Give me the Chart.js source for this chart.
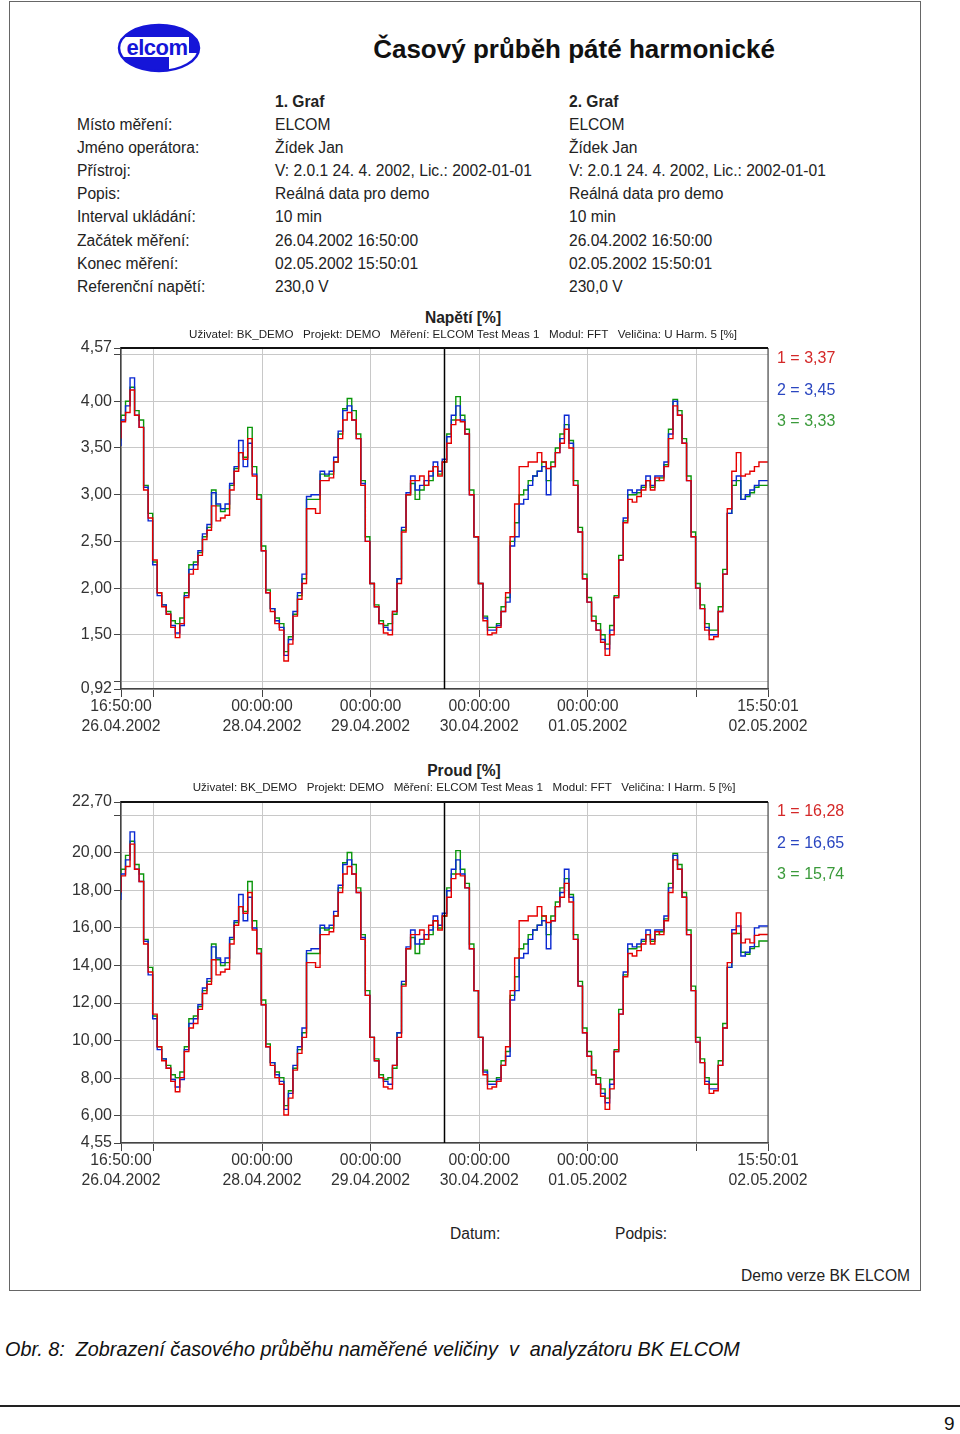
<!DOCTYPE html>
<html lang="cs">
<head>
<meta charset="utf-8">
<title>Časový průběh páté harmonické</title>
<script src="https://cdn.jsdelivr.net/npm/chart.js@4.4.1/dist/chart.umd.min.js"></script>
<style>
  body { margin: 0; background: #fff; }
  #page { position: relative; width: 960px; height: 1434px; overflow: hidden;
          font-family: "Liberation Sans", Arial, sans-serif; color: #222; }
  .t { position: absolute; white-space: pre; font-size: 15.6px; line-height: 20px; }
  .c { transform: translateX(-50%); }
  canvas { position: absolute; left: 0; }
  #frame { position: absolute; left: 9px; top: 1px; width: 910px; height: 1288px; border: 1px solid #666; }
</style>
</head>
<body>
<div id="page">
  <div id="frame"></div>

  <svg style="position:absolute;left:117px;top:23px" width="84" height="50" viewBox="0 0 84 50">
    <defs><clipPath id="lc"><ellipse cx="42" cy="25" rx="40" ry="23"/></clipPath></defs>
    <ellipse cx="42" cy="25" rx="40" ry="23" fill="#1515d8"/>
    <g clip-path="url(#lc)">
      <rect x="0" y="14" width="72" height="20" fill="#fff"/>
      <rect x="52" y="30" width="40" height="22" fill="#fff"/>
    </g>
    <ellipse cx="42" cy="25" rx="40" ry="23" fill="none" stroke="#1515d8" stroke-width="2.5"/>
    <text x="40" y="32" text-anchor="middle" font-family="Liberation Sans, Arial" font-weight="bold"
          font-size="22" fill="#1515d8" stroke="#fff" stroke-width="1" paint-order="stroke" letter-spacing="-0.5">elcom</text>
  </svg>

  <div class="t c" style="left:574px;top:33px;font-size:26px;line-height:32px;font-weight:bold;color:#111">Časový průběh páté harmonické</div>

  <div id="info"></div>

  <canvas id="napeti" width="960" height="420" style="top:330px"></canvas>
  <canvas id="proud" width="960" height="420" style="top:784px"></canvas>

  <div class="t c" style="left:463px;top:308px;font-weight:bold">Napětí [%]</div>
  <div class="t c" style="left:463px;top:326px;font-size:11.6px;line-height:16px">Uživatel: BK_DEMO   Projekt: DEMO   Měření: ELCOM Test Meas 1   Modul: FFT   Veličina: U Harm. 5 [%]</div>
  <div class="t c" style="left:464px;top:761px;font-weight:bold">Proud [%]</div>
  <div class="t c" style="left:464px;top:779px;font-size:11.6px;line-height:16px">Uživatel: BK_DEMO   Projekt: DEMO   Měření: ELCOM Test Meas 1   Modul: FFT   Veličina: I Harm. 5 [%]</div>

  <div id="legend1"></div>
  <div id="legend2"></div>

  <div class="t" style="left:450px;top:1224px">Datum:</div>
  <div class="t" style="left:615px;top:1224px">Podpis:</div>
  <div class="t" style="right:50px;top:1266px">Demo verze BK ELCOM</div>

  <div class="t" style="left:5px;top:1337px;font-size:19.8px;line-height:24px;font-style:italic;color:#111">Obr. 8:  Zobrazení časového průběhu naměřené veličiny  v  analyzátoru BK ELCOM</div>
  <div style="position:absolute;left:0;top:1405px;width:960px;height:0;border-top:2px solid #222"></div>
  <div class="t" style="left:944px;top:1412px;font-size:19px;line-height:24px;color:#111">9</div>
</div>

<script>
// hodinové vzorky od 26.04.2002 16:50:00 (10min záznam, zde po hodinách)
const startHour = 0;
const stepHours = 1;
const endHour = 143;
const cursorHour = 71.5;

const xTicks = [0, 7.1667, 31.1667, 55.1667, 79.1667, 103.1667, 127.1667, 143];
const xTickLabels = [
  ['16:50:00', '26.04.2002'], '', ['00:00:00', '28.04.2002'], ['00:00:00', '29.04.2002'],
  ['00:00:00', '30.04.2002'], ['00:00:00', '01.05.2002'], '', ['15:50:01', '02.05.2002']
];

const uTicks = [0.92, 1.0, 1.5, 2.0, 2.5, 3.0, 3.5, 4.0, 4.5, 4.57];
const uTickLabels = ['0,92', '', '1,50', '2,00', '2,50', '3,00', '3,50', '4,00', '', '4,57'];
const iTicks = [4.55, 6, 8, 10, 12, 14, 16, 18, 20, 22, 22.7];
const iTickLabels = ['4,55', '6,00', '8,00', '10,00', '12,00', '14,00', '16,00', '18,00', '20,00', '', '22,70'];

const uLegend = [3.37, 3.45, 3.33];
const iLegend = [16.28, 16.65, 15.74];

// Napětí - U Harm. 5 [%]
const uRed = [
  3.60,3.78,3.88,4.12,3.85,3.72,3.05,2.75,2.30,1.95,1.80,1.72,
  1.58,1.47,1.62,1.90,2.15,2.20,2.35,2.52,2.62,2.88,2.72,2.75,
  2.78,3.05,3.25,3.45,3.38,3.60,3.20,2.95,2.40,1.95,1.75,1.62,
  1.55,1.22,1.40,1.70,1.88,2.05,2.85,2.85,2.80,3.15,3.15,3.18,
  3.35,3.60,3.80,3.88,3.80,3.60,3.10,2.50,2.05,1.80,1.62,1.52,
  1.50,1.75,2.05,2.60,3.00,3.15,3.15,3.20,3.10,3.25,3.30,3.20,
  3.35,3.55,3.75,3.80,3.78,3.65,3.00,2.55,2.05,1.65,1.50,1.52,
  1.58,1.75,1.95,2.55,2.90,3.30,3.30,3.35,3.35,3.45,3.35,3.28,
  3.30,3.45,3.55,3.70,3.50,3.10,2.60,2.10,1.85,1.65,1.55,1.42,
  1.28,1.50,1.90,2.30,2.70,2.95,2.92,2.98,3.05,3.15,3.05,3.18,
  3.15,3.30,3.60,3.95,3.85,3.55,3.15,2.55,2.00,1.78,1.55,1.45,
  1.48,1.75,2.15,2.85,3.25,3.45,3.20,3.22,3.25,3.30,3.35,3.35
];
const uBlue = [
  3.52,3.80,3.95,4.25,3.85,3.72,3.08,2.72,2.25,1.92,1.82,1.72,
  1.60,1.52,1.60,1.92,2.20,2.25,2.40,2.58,2.68,3.02,2.90,2.85,
  2.90,3.12,3.30,3.58,3.30,3.55,3.22,2.95,2.40,1.95,1.78,1.65,
  1.58,1.28,1.45,1.75,1.95,2.15,2.98,3.00,3.00,3.25,3.22,3.25,
  3.40,3.68,3.90,3.95,3.80,3.60,3.12,2.50,2.05,1.80,1.62,1.58,
  1.55,1.75,2.10,2.65,3.02,3.20,3.05,3.10,3.15,3.20,3.35,3.25,
  3.38,3.62,3.85,3.95,3.80,3.65,3.00,2.55,2.05,1.68,1.55,1.55,
  1.60,1.75,1.85,2.45,2.55,2.90,2.95,3.10,3.20,3.25,3.30,3.00,
  3.30,3.45,3.60,3.85,3.55,3.10,2.60,2.10,1.85,1.65,1.55,1.45,
  1.35,1.55,1.90,2.30,2.75,3.05,3.02,3.05,3.10,3.20,3.10,3.20,
  3.20,3.35,3.65,4.00,3.85,3.55,3.15,2.55,2.00,1.78,1.58,1.50,
  1.50,1.75,2.15,2.80,3.15,3.20,2.95,3.00,3.05,3.10,3.15,3.15
];
const uGreen = [
  3.58,3.85,4.00,4.15,3.90,3.80,3.10,2.80,2.28,1.95,1.82,1.75,
  1.65,1.62,1.68,1.95,2.25,2.28,2.38,2.55,2.65,3.05,2.88,2.82,
  2.85,3.10,3.28,3.45,3.40,3.72,3.30,3.00,2.45,1.98,1.78,1.68,
  1.62,1.32,1.48,1.72,1.92,2.10,2.95,2.95,2.95,3.22,3.20,3.22,
  3.35,3.65,3.92,4.03,3.90,3.65,3.15,2.55,2.05,1.82,1.65,1.60,
  1.62,1.72,2.10,2.62,3.00,3.12,2.95,3.05,3.10,3.15,3.30,3.22,
  3.35,3.65,3.80,4.05,3.85,3.70,3.05,2.55,2.05,1.70,1.58,1.58,
  1.62,1.80,1.90,2.50,2.70,3.00,3.05,3.15,3.20,3.25,3.35,3.15,
  3.35,3.50,3.65,3.75,3.58,3.15,2.65,2.15,1.90,1.70,1.62,1.50,
  1.40,1.60,1.92,2.35,2.72,3.00,3.00,3.02,3.08,3.15,3.08,3.15,
  3.18,3.32,3.70,4.02,3.90,3.60,3.20,2.60,2.05,1.82,1.62,1.55,
  1.55,1.80,2.20,2.80,3.10,3.15,2.95,2.98,3.02,3.08,3.10,3.10
];

// Proud - I Harm. 5 [%]
const iRed = [
  17.88,18.77,19.27,20.46,19.12,18.47,15.14,13.65,11.41,9.67,8.93,8.53,
  7.83,7.28,8.03,9.42,10.67,10.91,11.66,12.51,13.00,14.30,13.50,13.65,
  13.80,15.14,16.14,17.13,16.78,17.88,15.89,14.64,11.91,9.67,8.68,8.03,
  7.68,6.04,6.94,8.43,9.32,10.17,14.15,14.15,13.90,15.64,15.64,15.79,
  16.63,17.88,18.87,19.27,18.87,17.88,15.39,12.41,10.17,8.93,8.03,7.53,
  7.43,8.68,10.17,12.90,14.89,15.64,15.64,15.89,15.39,16.14,16.38,15.89,
  16.63,17.63,18.62,18.87,18.77,18.13,14.89,12.66,10.17,8.18,7.43,7.53,
  7.83,8.68,9.67,12.66,14.40,16.38,16.38,16.63,16.63,17.13,16.63,16.29,
  16.38,17.13,17.63,18.37,17.38,15.39,12.90,10.42,9.17,8.18,7.68,7.04,
  6.34,7.43,9.42,11.41,13.40,14.64,14.50,14.79,15.14,15.64,15.14,15.79,
  15.64,16.38,17.88,19.62,19.12,17.63,15.64,12.66,9.92,8.83,7.68,7.19,
  7.33,8.68,10.67,14.15,15.70,16.80,15.20,15.40,15.20,15.60,15.65,15.65
];
const iBlue = [
  17.48,18.87,19.62,21.11,19.12,18.47,15.29,13.50,11.16,9.52,9.03,8.53,
  7.93,7.53,7.93,9.52,10.91,11.16,11.91,12.80,13.30,14.99,14.40,14.15,
  14.40,15.49,16.38,17.78,16.38,17.63,15.99,14.64,11.91,9.67,8.83,8.18,
  7.83,6.34,7.19,8.68,9.67,10.67,14.79,14.89,14.89,16.14,15.99,16.14,
  16.88,18.27,19.37,19.62,18.87,17.88,15.49,12.41,10.17,8.93,8.03,7.83,
  7.68,8.68,10.42,13.15,14.99,15.89,15.14,15.39,15.64,15.89,16.63,16.14,
  16.78,17.98,19.12,19.62,18.87,18.13,14.89,12.66,10.17,8.33,7.68,7.68,
  7.93,8.68,9.17,12.16,12.66,14.40,14.64,15.39,15.89,16.14,16.38,14.89,
  16.38,17.13,17.88,19.12,17.63,15.39,12.90,10.42,9.17,8.18,7.68,7.19,
  6.69,7.68,9.42,11.41,13.65,15.14,14.99,15.14,15.39,15.89,15.39,15.89,
  15.89,16.63,18.13,19.86,19.12,17.63,15.64,12.66,9.92,8.83,7.83,7.43,
  7.43,8.68,10.67,13.90,15.90,16.10,14.50,14.70,15.00,16.00,16.10,16.10
];
const iGreen = [
  17.78,19.12,19.86,20.61,19.37,18.87,15.39,13.90,11.31,9.67,9.03,8.68,
  8.18,8.03,8.33,9.67,11.16,11.31,11.81,12.66,13.15,15.14,14.30,14.00,
  14.15,15.39,16.29,17.13,16.88,18.47,16.38,14.89,12.16,9.82,8.83,8.33,
  8.03,6.54,7.33,8.53,9.52,10.42,14.64,14.64,14.64,15.99,15.89,15.99,
  16.63,18.13,19.47,20.01,19.37,18.13,15.64,12.66,10.17,9.03,8.18,7.93,
  8.03,8.53,10.42,13.00,14.89,15.49,14.64,15.14,15.39,15.64,16.38,15.99,
  16.63,18.13,18.87,20.11,19.12,18.37,15.14,12.66,10.17,8.43,7.83,7.83,
  8.03,8.93,9.42,12.41,13.40,14.89,15.14,15.64,15.89,16.14,16.63,15.64,
  16.63,17.38,18.13,18.62,17.78,15.64,13.15,10.67,9.42,8.43,8.03,7.43,
  6.94,7.93,9.52,11.66,13.50,14.89,14.89,14.99,15.29,15.64,15.29,15.64,
  15.79,16.48,18.37,19.96,19.37,17.88,15.89,12.90,10.17,9.03,8.03,7.68,
  7.68,8.93,10.91,13.90,15.70,15.70,14.70,14.60,14.90,15.00,15.30,15.30
];

const infoLabels = ['Místo měření:', 'Jméno operátora:', 'Přístroj:', 'Popis:', 'Interval ukládání:',
  'Začátek měření:', 'Konec měření:', 'Referenční napětí:'];
const graf1Values = ['ELCOM', 'Žídek Jan', 'V: 2.0.1 24. 4. 2002, Lic.: 2002-01-01', 'Reálná data pro demo',
  '10 min', '26.04.2002 16:50:00', '02.05.2002 15:50:01', '230,0 V'];
const graf2Values = ['ELCOM', 'Žídek Jan', 'V: 2.0.1 24. 4. 2002, Lic.: 2002-01-01', 'Reálná data pro demo',
  '10 min', '26.04.2002 16:50:00', '02.05.2002 15:50:01', '230,0 V'];

const lineColors = ['#e60000', '#0a28d2', '#0a960a'];
const legendColors = ['#d42828', '#2a46c0', '#3a9a3a'];
const fontFamily = '"Liberation Sans", Arial, sans-serif';

function addText(parent, text, left, top, extra) {
  const d = document.createElement('div');
  d.className = 't';
  d.textContent = text;
  d.style.left = left + 'px';
  d.style.top = top + 'px';
  if (extra) Object.assign(d.style, extra);
  parent.appendChild(d);
}

const info = document.getElementById('info');
addText(info, '1. Graf', 275, 92, { fontWeight: 'bold' });
addText(info, '2. Graf', 569, 92, { fontWeight: 'bold' });
infoLabels.forEach((label, i) => {
  const top = 115 + i * 23.1;
  addText(info, label, 77, top);
  addText(info, graf1Values[i], 275, top);
  addText(info, graf2Values[i], 569, top);
});

function fmt(v) {
  return v.toFixed(2).replace('.', ',');
}

function renderLegend(id, values, firstTop) {
  const el = document.getElementById(id);
  values.forEach((v, i) => {
    addText(el, (i + 1) + ' = ' + fmt(v), 777, firstTop + i * 31.5, { fontSize: '16px', color: legendColors[i] });
  });
}
renderLegend('legend1', uLegend, 348);
renderLegend('legend2', iLegend, 801);

const toPoints = (values) => values.map((v, i) => ({ x: startHour + i * stepHours, y: v }));

const plotFrame = {
  id: 'plotFrame',
  afterDatasetsDraw(chart) {
    const { ctx, chartArea: a } = chart;
    const x = chart.scales.x.getPixelForValue(cursorHour);
    ctx.save();
    ctx.strokeStyle = '#000';
    ctx.lineWidth = 1.5;
    ctx.beginPath();
    ctx.moveTo(x, a.top);
    ctx.lineTo(x, a.bottom);
    ctx.stroke();
    ctx.strokeStyle = '#555';
    ctx.lineWidth = 1.2;
    ctx.beginPath();
    ctx.moveTo(a.right, a.top);
    ctx.lineTo(a.right, a.bottom);
    ctx.stroke();
    ctx.strokeStyle = '#111';
    ctx.lineWidth = 2;
    ctx.beginPath();
    ctx.moveTo(a.left, a.top);
    ctx.lineTo(a.right, a.top);
    ctx.stroke();
    ctx.restore();
  }
};

const renderChart = (canvasId, red, blue, green, yMin, yMax, yTicks, yLabels) => {
  const canvas = document.getElementById(canvasId);
  const series = [red, blue, green];

  return new Chart(canvas, {
    type: 'line',
    data: {
      datasets: series.map((values, i) => ({
        label: String(i + 1),
        data: toPoints(values),
        borderColor: lineColors[i],
        borderWidth: 1.4,
        pointRadius: 0,
        stepped: 'after',
        fill: false,
        order: i + 1,
      })),
    },
    options: {
      responsive: false,
      animation: false,
      devicePixelRatio: 1,
      layout: { padding: { left: 61, right: 192, top: 18, bottom: 11 } },
      plugins: { legend: { display: false }, tooltip: { enabled: false } },
      scales: {
        x: {
          type: 'linear',
          min: startHour,
          max: endHour,
          afterBuildTicks: (s) => { s.ticks = xTicks.map((v) => ({ value: v })); },
          afterFit: (s) => { s.height = 50; },
          ticks: {
            autoSkip: false,
            maxRotation: 0,
            padding: 0,
            color: '#333',
            font: { family: fontFamily, size: 15.8, lineHeight: 1.27 },
            callback: (v, i) => xTickLabels[i],
          },
          grid: { color: '#c8c8c8', lineWidth: 1, tickColor: '#444', tickLength: 8 },
          border: { color: '#444', width: 1.5 },
        },
        y: {
          type: 'linear',
          min: yMin,
          max: yMax,
          afterBuildTicks: (s) => { s.ticks = yTicks.map((v) => ({ value: v })); },
          afterFit: (s) => { s.width = 60; },
          ticks: {
            autoSkip: false,
            padding: 2,
            color: '#333',
            font: { family: fontFamily, size: 16 },
            callback: (v, i) => yLabels[i],
          },
          grid: { color: '#c8c8c8', lineWidth: 1, tickColor: '#444', tickLength: 7 },
          border: { color: '#444', width: 1.5 },
        },
      },
    },
    plugins: [plotFrame],
  });
};

renderChart('napeti', uRed, uBlue, uGreen, 0.92, 4.57, uTicks, uTickLabels);
renderChart('proud', iRed, iBlue, iGreen, 4.55, 22.7, iTicks, iTickLabels);
</script>
</body>
</html>
